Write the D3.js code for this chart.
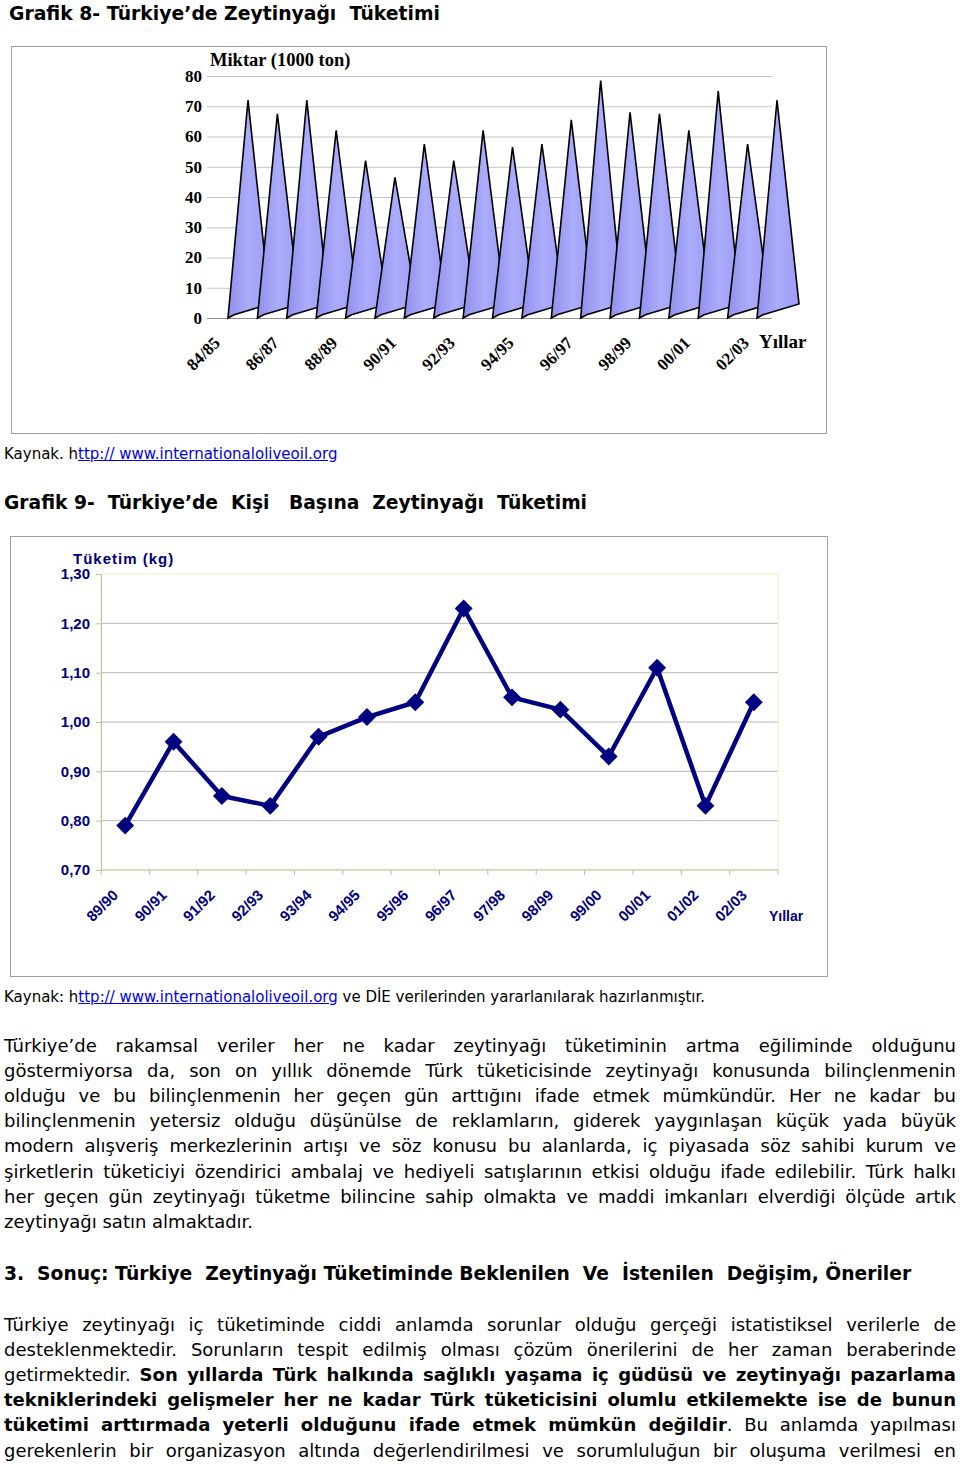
<!DOCTYPE html>
<html><head><meta charset="utf-8">
<script src="https://cdn.jsdelivr.net/npm/d3@7"></script>
<style>
body{margin:0;width:960px;height:1464px;background:#fff;position:relative;overflow:hidden;font-family:'DejaVu Sans',Verdana,sans-serif;}
svg{position:absolute;left:0;top:0}
.t{position:absolute;left:4px;width:952px;white-space:nowrap;color:#000;line-height:25px;height:25px;}
.j{text-align:justify;text-align-last:justify;}
.b{font-weight:bold}
a{color:#0000ee;text-decoration:underline}
</style></head><body>
<svg id="c" width="960" height="1464"></svg>
<div id="txt"></div>
<script>
// ---------- DATA ----------
const years1 = ["84/85","85/86","86/87","87/88","88/89","89/90","90/91","91/92","92/93","93/94","94/95","95/96","96/97","97/98","98/99","99/00","00/01","01/02","02/03"];
const values1 = [72,67.5,72,62,52,46.5,57.5,52,62,56.5,57.5,65.5,78.5,68,67.5,62,75,57.5,72];
const yTicks1 = [0,10,20,30,40,50,60,70,80];

const years2 = ["89/90","90/91","91/92","92/93","93/94","94/95","95/96","96/97","97/98","98/99","99/00","00/01","01/02","02/03"];
const values2 = [0.79,0.96,0.85,0.83,0.97,1.01,1.04,1.23,1.05,1.025,0.93,1.11,0.83,1.04];
const yTicks2 = [0.7,0.8,0.9,1.0,1.1,1.2,1.3];

const svg = d3.select("#c");
const defs = svg.append("defs");
const grad = defs.append("linearGradient").attr("id","cone").attr("x1","0").attr("x2","1").attr("y1","0").attr("y2","0");
grad.append("stop").attr("offset","0").attr("stop-color","#9090ec");
grad.append("stop").attr("offset","0.5").attr("stop-color","#acacfc");
grad.append("stop").attr("offset","1").attr("stop-color","#9c9cf4");
const serif = "'Liberation Serif','Times New Roman',serif";
const sans = "'Liberation Sans',Arial,sans-serif";

// ---------- CHART 1 ----------
const g1 = svg.append("g");
g1.append("rect").attr("x",11.5).attr("y",46.5).attr("width",815).attr("height",387).attr("fill","#fff").attr("stroke","#a0a0a0");
const x1 = d3.scalePoint().domain(years1).range([248,777]);
const y1 = d3.scaleLinear().domain([0,80]).range([318,76]);
const ax1 = g1.append("g").attr("transform","translate(207,0)")
  .call(d3.axisLeft(y1).tickValues(yTicks1).tickSize(-565).tickPadding(5));
ax1.select(".domain").remove();
ax1.selectAll("line").attr("stroke",d=>d===0?"#909090":"#c4c4c4");
ax1.selectAll("text").attr("font-family",serif).attr("font-weight","bold").attr("font-size","17px").attr("fill","#000");

const cones = g1.append("g");
years1.forEach((yr,i)=>{
  const x = x1(yr), y0 = y1(0), yp = y1(values1[i]);
  const p = `M${x-20},${y0} L${x},${yp} L${x+22},${y0-14} L${x-14},${y0-3.3} Z`;
  cones.append("path").attr("d",p).attr("fill","url(#cone)").attr("stroke","#000").attr("stroke-width",1.6).attr("stroke-linejoin","miter");
});
years1.forEach((yr,i)=>{
  if(i%2) return;
  g1.append("text").attr("transform",`translate(${x1(yr)-27},344) rotate(-45)`)
    .attr("text-anchor","end").attr("font-family",serif).attr("font-weight","bold").attr("font-size","17px").text(yr);
});
g1.append("text").attr("x",759).attr("y",348).attr("font-family",serif).attr("font-weight","bold").attr("font-size","19px").text("Yıllar");
g1.append("text").attr("x",210).attr("y",66).attr("font-family",serif).attr("font-weight","bold").attr("font-size","18.5px").text("Miktar (1000 ton)");

// ---------- CHART 2 ----------
const g2 = svg.append("g");
g2.append("rect").attr("x",10.5).attr("y",536.5).attr("width",817).attr("height",440).attr("fill","#fff").attr("stroke","#a0a0a0");
const x2 = d3.scaleBand().domain(years2).range([101,778]);
const y2 = d3.scaleLinear().domain([0.7,1.3]).range([870,574]);
const navy = "#000080";
g2.append("g").selectAll("line").data(yTicks2.filter(d=>d>0.75&&d<1.25)).join("line")
  .attr("x1",101).attr("x2",778).attr("y1",d=>y2(d)).attr("y2",d=>y2(d)).attr("stroke","#b8b8b8");
g2.append("rect").attr("x",101).attr("y",y2(1.3)).attr("width",677).attr("height",y2(0.7)-y2(1.3)).attr("fill","none").attr("stroke","#eeeec0");
const ay2 = g2.append("g").attr("transform","translate(101,0)")
  .call(d3.axisLeft(y2).tickValues(yTicks2).tickSize(5).tickPadding(6).tickFormat(d=>d.toFixed(2).replace(".",",")));
ay2.select(".domain").attr("stroke","#c0c09a");
ay2.selectAll("line").attr("stroke","#c0c09a");
ay2.selectAll("text").attr("font-family",sans).attr("font-weight","bold").attr("font-size","15px").attr("fill",navy);
g2.append("line").attr("x1",101).attr("x2",778).attr("y1",y2(0.7)).attr("y2",y2(0.7)).attr("stroke","#c0c09a");
g2.append("g").selectAll("line").data(years2.map(d=>x2(d)).concat([778])).join("line")
  .attr("x1",d=>d).attr("x2",d=>d).attr("y1",y2(0.7)).attr("y2",y2(0.7)+5).attr("stroke","#c0c09a");
years2.forEach(yr=>{
  const cx = x2(yr)+x2.bandwidth()/2;
  g2.append("text").attr("transform",`translate(${cx-6},896) rotate(-45)`).attr("text-anchor","end")
    .attr("font-family",sans).attr("font-weight","bold").attr("font-size","15px").attr("fill",navy).text(yr);
});
g2.append("text").attr("x",769).attr("y",921).attr("font-family",sans).attr("font-weight","bold").attr("font-size","14px").attr("fill",navy).text("Yıllar");
g2.append("text").attr("x",73).attr("y",564).attr("font-family",sans).attr("font-weight","bold").attr("font-size","15px").attr("letter-spacing","1px").attr("fill",navy).text("Tüketim (kg)");
const line = d3.line().x((d,i)=>x2(years2[i])+x2.bandwidth()/2).y(d=>y2(d));
g2.append("path").datum(values2).attr("d",line).attr("fill","none").attr("stroke",navy).attr("stroke-width",4.5).attr("stroke-linejoin","round");
g2.append("g").selectAll("path").data(values2).join("path")
  .attr("transform",(d,i)=>`translate(${x2(years2[i])+x2.bandwidth()/2},${y2(d)}) rotate(45)`)
  .attr("d",d3.symbol(d3.symbolSquare,160)).attr("fill",navy);

// ---------- TEXT ----------
const T = d3.select("#txt");
function L(html, cy, size, cls, left){
  const d = T.append("div").attr("class","t "+(cls||"")).style("top",(cy-12.5)+"px").style("font-size",size+"px").html(html);
  if(left!==undefined) d.style("left",left+"px");
}
L("Grafik 8- Türkiye’de Zeytinyağı&nbsp; Tüketimi",13,18.8,"b",9);
L("Kaynak. h<a>ttp:// www.internationaloliveoil.org</a>",454,15);
L("Grafik 9-&nbsp; Türkiye’de&nbsp; Kişi&nbsp;&nbsp; Başına&nbsp; Zeytinyağı&nbsp; Tüketimi",502,18.7,"b");
L("Kaynak: h<a>ttp:// www.internationaloliveoil.org</a> ve DİE verilerinden yararlanılarak hazırlanmıştır.",997,15);
const p1 = [
"Türkiye’de rakamsal veriler her ne kadar zeytinyağı tüketiminin artma eğiliminde olduğunu",
"göstermiyorsa da, son on yıllık dönemde Türk tüketicisinde zeytinyağı konusunda bilinçlenmenin",
"olduğu ve bu bilinçlenmenin her geçen gün arttığını ifade etmek mümkündür. Her ne kadar bu",
"bilinçlenmenin yetersiz olduğu düşünülse de reklamların, giderek yaygınlaşan küçük yada büyük",
"modern alışveriş merkezlerinin artışı ve söz konusu bu alanlarda, iç piyasada söz sahibi kurum ve",
"şirketlerin tüketiciyi özendirici ambalaj ve hediyeli satışlarının etkisi olduğu ifade edilebilir. Türk halkı",
"her geçen gün zeytinyağı tüketme bilincine sahip olmakta ve maddi imkanları elverdiği ölçüde artık"];
p1.forEach((s,i)=>L(s,1045+i*25.2,18,"j"));
L("zeytinyağı satın almaktadır.",1045+7*25.2,18);
L("3.&nbsp; Sonuç: Türkiye&nbsp; Zeytinyağı Tüketiminde Beklenilen&nbsp; Ve&nbsp; İstenilen&nbsp; Değişim, Öneriler",1273,18.7,"b");
const p2 = [
"Türkiye zeytinyağı iç tüketiminde ciddi anlamda sorunlar olduğu gerçeği istatistiksel verilerle de",
"desteklenmektedir. Sorunların tespit edilmiş olması çözüm önerilerini de her zaman beraberinde",
"getirmektedir. <b>Son yıllarda Türk halkında sağlıklı yaşama iç güdüsü ve zeytinyağı pazarlama</b>",
"<b>tekniklerindeki gelişmeler her ne kadar Türk tüketicisini olumlu etkilemekte ise de bunun</b>",
"<b>tüketimi arttırmada yeterli olduğunu ifade etmek mümkün değildir</b>. Bu anlamda yapılması",
"gerekenlerin bir organizasyon altında değerlendirilmesi ve sorumluluğun bir oluşuma verilmesi en"];
p2.forEach((s,i)=>L(s,1324+i*25.2,18,"j"));
</script>
</body></html>
